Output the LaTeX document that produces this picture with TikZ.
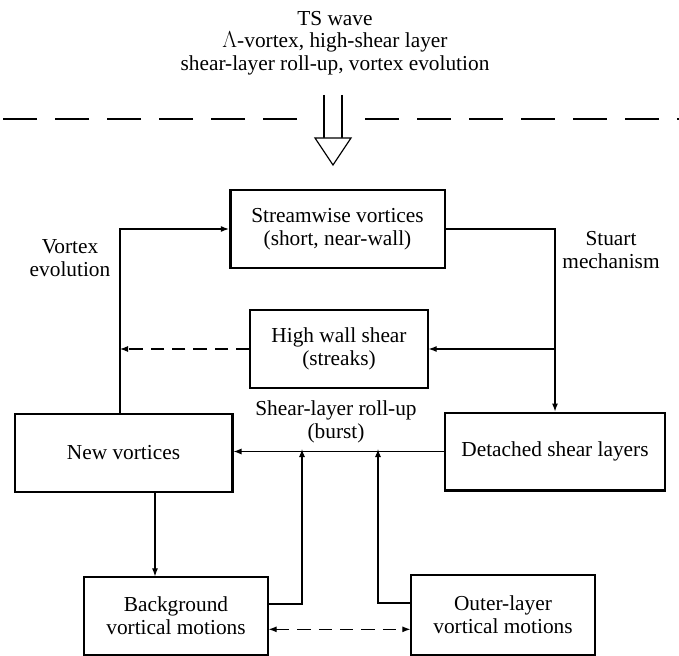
\documentclass[tikz,border=0pt]{standalone}
\usepackage{fontspec}
\setmainfont{Liberation Serif}
\usetikzlibrary{arrows.meta}
\tikzset{
  thickbox/.style={draw, line width=2pt, align=center, inner sep=0pt},
  thinbox/.style={draw, line width=1pt, align=center, inner sep=0pt},
  arr/.style={line width=0.8pt, -{Latex[length=6pt,width=4.5pt]}},
  lbl/.style={align=center, inner sep=0pt}
}
\begin{document}
\begin{tikzpicture}[x=0.75pt, y=-0.75pt, font=\fontsize{16}{17}\selectfont]
		\useasboundingbox (0,0) rectangle (679,656);
		% source of the streamwise vortices
		\node[lbl] (src) at (335,43) {TS wave\\$\Lambda$-vortex, high-shear layer\\shear-layer roll-up, vortex evolution};
		\draw[line width=0.8pt, dash pattern=on 25.5pt off 13.5pt] (297,119) -- (0,119);
		\draw[line width=0.8pt, dash pattern=on 25.5pt off 13.5pt] (365,119) -- (679,119);
		\draw[line width=0.9pt] (324,95) -- (324,138) (342,95) -- (342,138);
		\draw[line width=0.9pt, fill=white] (315,138) -- (351,138) -- (333,165) -- cycle;
		% boxes
		\node[thickbox, minimum width=161pt, minimum height=58.5pt] (stream) at (337.5,229) {Streamwise vortices\\(short, near-wall)};
		\node[thinbox, minimum width=133.5pt, minimum height=58.5pt] (high) at (339,349) {High wall shear\\(streaks)};
		\node[thickbox, minimum width=163pt, minimum height=58.5pt] (new) at (123.5,453) {New vortices};
		\node[thickbox, minimum width=165pt, minimum height=58pt] (det) at (555,451.5) {Detached shear layers};
		\node[thinbox, minimum width=138pt, minimum height=58.5pt] (bg) at (176,616) {Background\\vortical motions};
		\node[thinbox, minimum width=138pt, minimum height=60pt] (outer) at (503,615) {Outer-layer\\vortical motions};
		% junction points
		\coordinate (vx) at (120,345);
		\coordinate (dn) at (155,0);
		\coordinate (j1) at (302,449);
		\coordinate (j2) at (378,449);
		% connectors
		\draw[arr] (new.north -| vx) |- (stream.west);
		\draw[arr] (stream.east) -| (det.north);
		\draw[arr] (det.north |- high.east) -- (high.east);
		\draw[arr, dash pattern=on 10pt off 6pt] (high.west) -- (high.west -| vx);
		\draw[arr] (det.west) -- (det.west -| new.east);
		\draw[arr] (new.south -| dn) -- (bg.north -| dn);
		\draw[arr] ([yshift=9pt]bg.east) -| (j1);
		\draw[arr] ([yshift=9pt]outer.west) -| (j2);
		\draw[line width=0.8pt, {Latex[length=6pt,width=4.5pt]}-{Latex[length=6pt,width=4.5pt]}, dash pattern=on 10pt off 6pt] ([yshift=-10pt]bg.east) -- ([yshift=-10pt]bg.east -| outer.west);
		% labels
		\node[lbl] (ve) at (70,258) {Vortex\\evolution};
		\node[lbl] (sm) at (611,250) {Stuart\\mechanism};
		\node[lbl] (sl) at (336,422) {Shear-layer roll-up\\(burst)};
\end{tikzpicture}
\end{document}
